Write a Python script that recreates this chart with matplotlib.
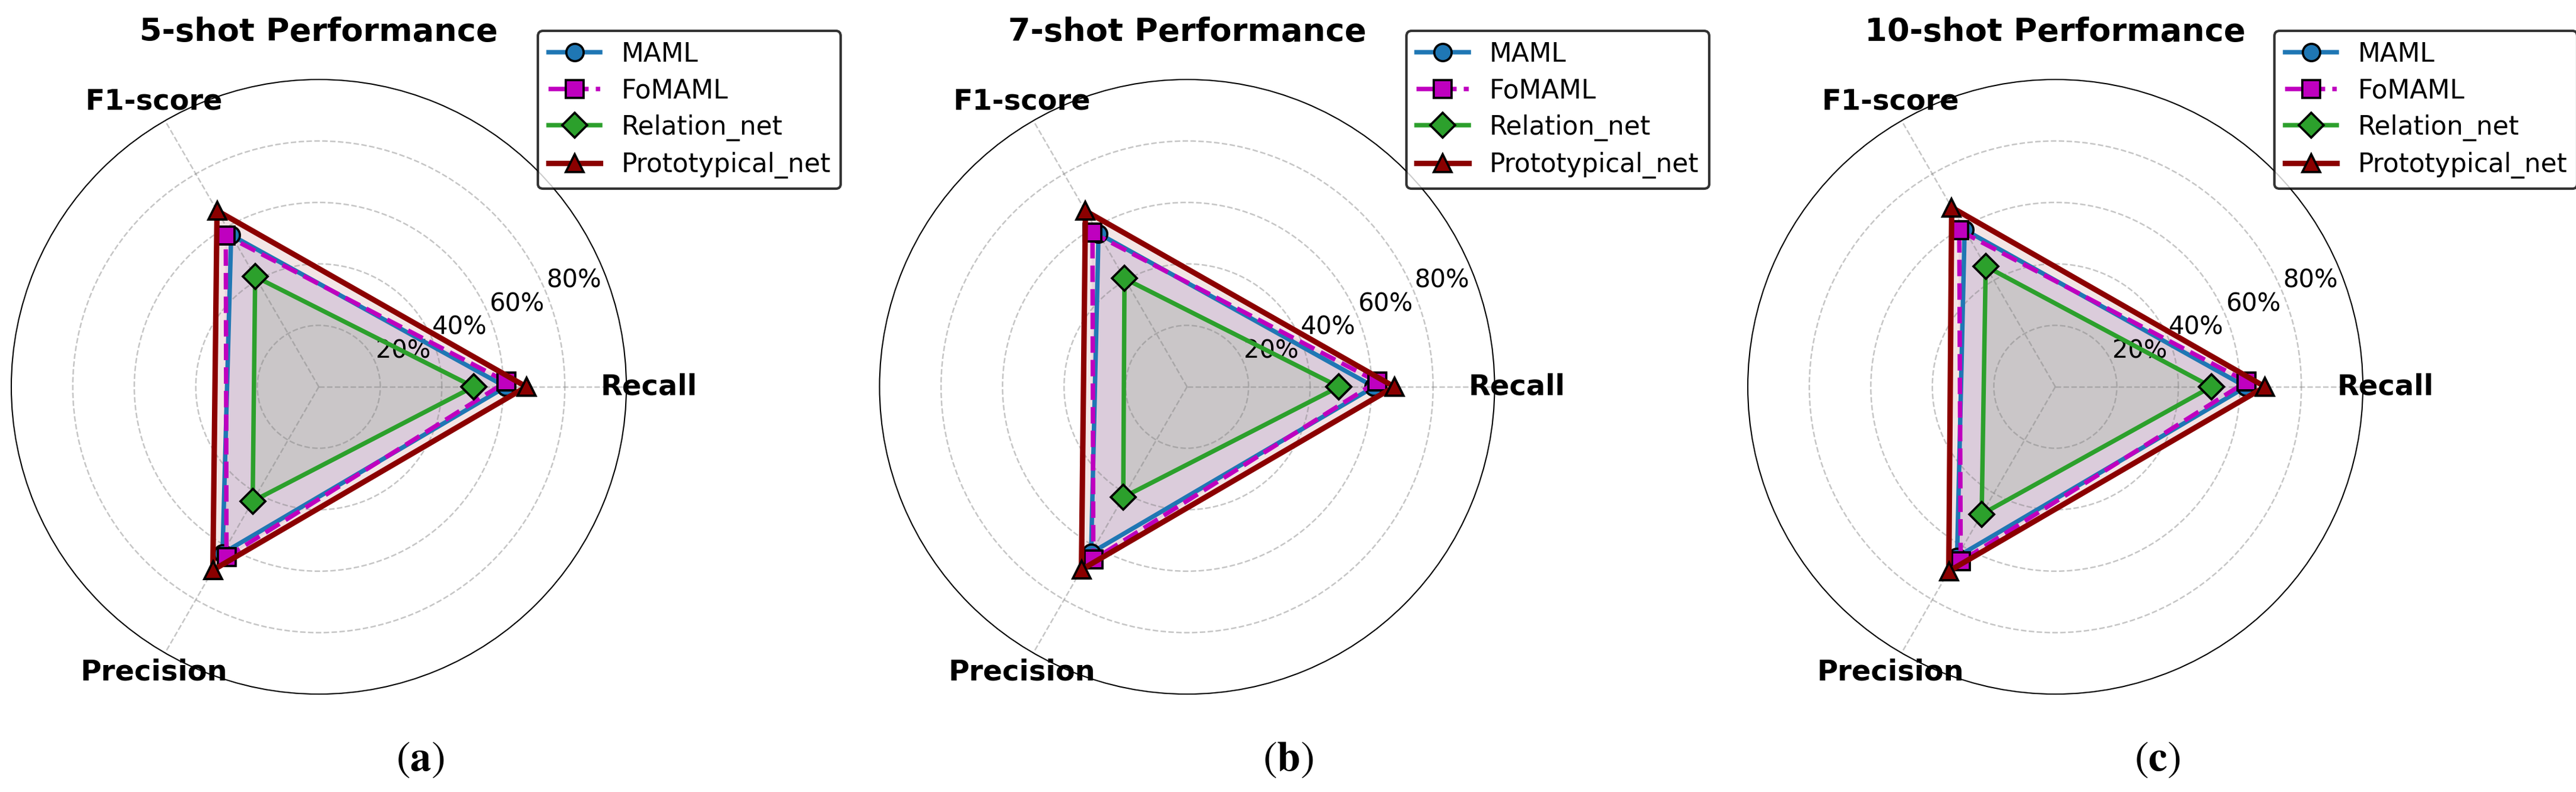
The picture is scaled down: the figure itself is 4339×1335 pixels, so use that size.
import numpy as np
import matplotlib
matplotlib.use('Agg')
import matplotlib.pyplot as plt

plt.rcParams['mathtext.fontset'] = 'stix'

categories = ['Recall', 'F1-score', 'Precision']
models = ['MAML', 'FoMAML', 'Relation_net', 'Prototypical_net']
shot_titles = ['5-shot Performance', '7-shot Performance', '10-shot Performance']
panel_tags = ['a', 'b', 'c']
r_ticks = [20, 40, 60, 80]
r_tick_labels = ['20%', '40%', '60%', '80%']

# scores in %, per shot setting, order: Recall, F1-score, Precision
maml = [[60.8, 57.0, 62.6], [60.8, 57.6, 62.4], [62.0, 59.0, 63.9]]
fomaml = [[61.0, 57.8, 63.0], [61.8, 58.8, 64.0], [62.2, 59.7, 64.6]]
relation_net = [[50.3, 41.4, 43.0], [49.4, 40.7, 41.5], [50.7, 45.3, 47.9]]
prototypical_net = [[67.5, 66.2, 68.9], [67.4, 66.1, 68.7], [68.2, 67.4, 69.3]]

series = [maml, fomaml, relation_net, prototypical_net]

styles = {
    'MAML': dict(color='#1f77b4', linestyle='-', marker='o', lw=1.8, fill=0.1),
    'FoMAML': dict(color='m', linestyle='--', marker='s', lw=1.8, fill=0.05),
    'Relation_net': dict(color='#2ca02c', linestyle='-', marker='D', lw=1.8, fill=0.1),
    'Prototypical_net': dict(color='darkred', linestyle='-', marker='^', lw=2.2, fill=0.1),
}
# FoMAML is drawn slightly rotated so it does not sit exactly on MAML
angle_shift = {'MAML': 0.0, 'FoMAML': 0.027, 'Relation_net': 0.0, 'Prototypical_net': 0.0}

angles = np.linspace(0, 2 * np.pi, len(categories), endpoint=False)

W, H = 4339, 1335
fig = plt.figure(figsize=(W / 300, H / 300), dpi=300)

lefts = [18.5 / W, 1481 / W, 2943.5 / W]
caption_x = [708 / W, 2170 / W, 3634 / W]

for i in range(3):
    ax = fig.add_axes([lefts[i], 165 / H, 1037 / W, 1036 / H], projection='polar')
    for model, data in zip(models, series):
        st = styles[model]
        ang = np.append(angles, angles[0]) + angle_shift[model]
        vals = data[i] + data[i][:1]
        ax.plot(ang, vals, label=model, color=st['color'], linestyle=st['linestyle'],
                marker=st['marker'], lw=st['lw'], markersize=7,
                markeredgecolor='black', markeredgewidth=0.9)
        ax.fill(ang, vals, color=st['color'], alpha=st['fill'])

    ax.set_xticks(angles)
    ax.set_xticklabels(categories, fontsize=11.5, fontweight='bold')
    ax.tick_params(axis='x', pad=-1.5)
    ax.set_ylim(0, 100)
    ax.set_yticks(r_ticks)
    ax.set_yticklabels(r_tick_labels, fontsize=10)
    ax.grid(True, linestyle='--', color='gray', alpha=0.45, lw=0.6)
    ax.spines['polar'].set_linewidth(0.5)
    ax.set_title(shot_titles[i], fontsize=13, fontweight='bold', pad=15.5)
    ax.legend(loc='upper right', bbox_to_anchor=(1.37, 1.10), fontsize=10.5,
              edgecolor='black', labelspacing=0.42)

    fig.text(caption_x[i], 55 / H, r'$(\mathbf{' + panel_tags[i] + r'})$',
             fontsize=17, ha='center', va='center')

fig.savefig('out.png', dpi=300)
